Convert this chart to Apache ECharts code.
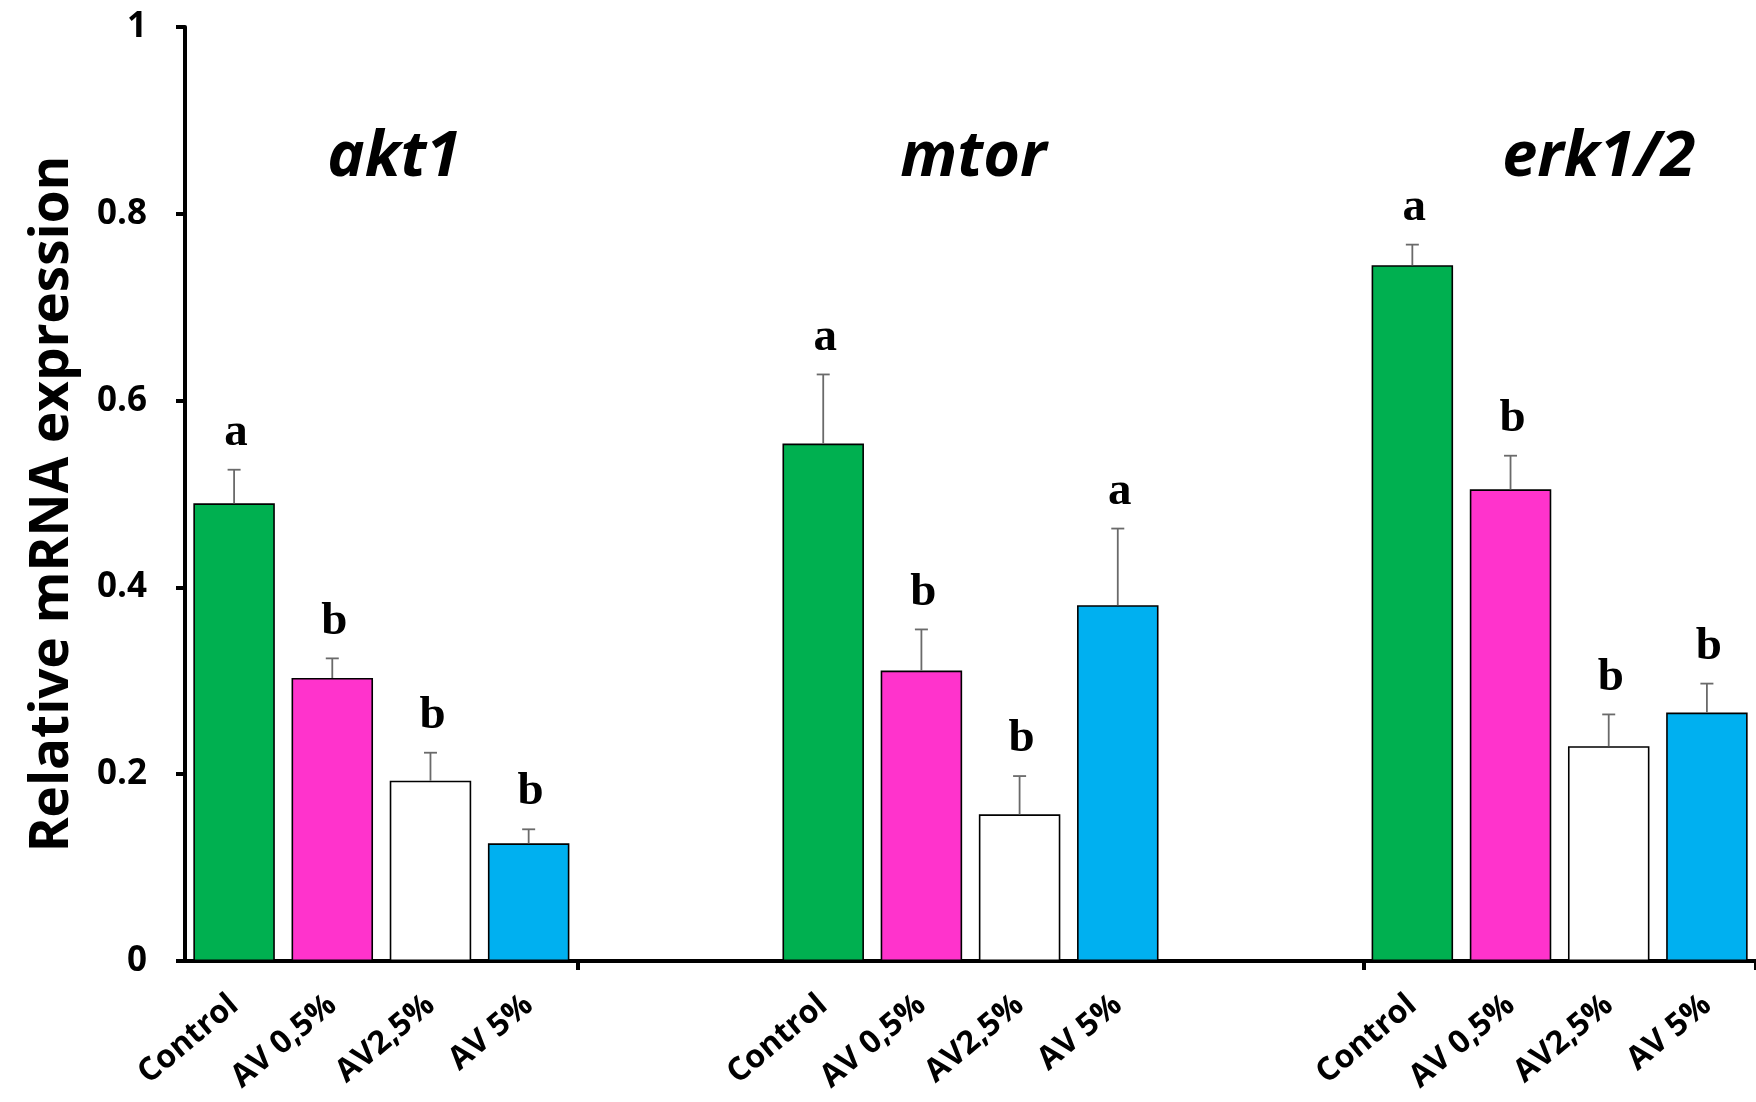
<!DOCTYPE html>
<html>
<head>
<meta charset="utf-8">
<script src="https://cdn.jsdelivr.net/npm/echarts@6/dist/echarts.min.js"></script>
<style>
  html, body { margin: 0; padding: 0; background: #fff; }
  #chart { width: 1756px; height: 1102px; }
</style>
</head>
<body>
<div id="chart"></div>
<script>
// Relative mRNA expression of three genes under four treatments (mean + SE, letter groups)
const genes = ['akt1', 'mtor', 'erk1/2'];
const treatments = ['Control', 'AV 0,5%', 'AV2,5%', 'AV 5%'];
const treatmentColors = ['#00B050', '#FF33CC', '#FFFFFF', '#00B0F0'];

const akt1Mean = [0.490, 0.303, 0.193, 0.126];
const akt1Err = [0.036, 0.021, 0.030, 0.015];
const akt1Letters = ['a', 'b', 'b', 'b'];

const mtorMean = [0.554, 0.311, 0.157, 0.381];
const mtorErr = [0.074, 0.044, 0.041, 0.082];
const mtorLetters = ['a', 'b', 'b', 'a'];

const erkMean = [0.745, 0.505, 0.230, 0.266];
const erkErr = [0.022, 0.036, 0.034, 0.031];
const erkLetters = ['a', 'b', 'b', 'b'];

const yTickLabels = ['0', '0.2', '0.4', '0.6', '0.8', '1'];

// ---- layout helpers ----
const means = [akt1Mean, mtorMean, erkMean];
const errs = [akt1Err, mtorErr, erkErr];
const letters = [akt1Letters, mtorLetters, erkLetters];

// each gene occupies 6 slots on the category axis: 4 bars followed by 2 empty slots
const slotsPerGroup = 6;
const slotCount = genes.length * slotsPerGroup - 2;
const tickSlots = [4, 12];
const titleLevel = 0.86;
const titleShift = [0.13, 0.03, 0.4]; // horizontal nudge of each gene title, in slots

const categories = new Array(slotCount).fill('');
const barData = new Array(slotCount).fill('-');
const errData = [];
const errLetters = [];
genes.forEach((g, gi) => {
  treatments.forEach((t, ti) => {
    const slot = gi * slotsPerGroup + ti;
    categories[slot] = t;
    barData[slot] = {
      value: means[gi][ti],
      itemStyle: { color: treatmentColors[ti] }
    };
    errData.push([slot, means[gi][ti], errs[gi][ti]]);
    errLetters.push(letters[gi][ti]);
  });
});
const titleData = genes.map((g, gi) => [gi * slotsPerGroup + 1, titleLevel]);

const chart = echarts.init(document.getElementById('chart'));
chart.setOption({
  animation: false,
  backgroundColor: '#fff',
  grid: { left: 185, right: 0, top: 27, bottom: 141, outerBoundsMode: 'none' },
  xAxis: {
    type: 'category',
    data: categories,
    boundaryGap: true,
    axisLine: { show: true, lineStyle: { color: '#000', width: 4 } },
    axisTick: {
      show: true,
      length: 9,
      interval: (index) => tickSlots.indexOf(index) >= 0,
      lineStyle: { color: '#000', width: 4 }
    },
    axisLabel: {
      interval: 0,
      rotate: 40,
      margin: 40,
      color: '#000',
      fontFamily: 'Open Sans',
      fontWeight: 'bold',
      fontSize: 32
    },
    splitLine: { show: false }
  },
  yAxis: {
    type: 'value',
    min: 0,
    max: 1,
    interval: 0.2,
    name: 'Relative mRNA expression',
    nameLocation: 'middle',
    nameGap: 106,
    nameRotate: 90,
    nameTextStyle: {
      color: '#000',
      fontFamily: 'Open Sans',
      fontWeight: 'bold',
      fontSize: 53,
      padding: [0, 20, 0, 0]
    },
    axisLine: { show: true, lineStyle: { color: '#000', width: 4 } },
    axisTick: { show: true, length: 9, lineStyle: { color: '#000', width: 4 } },
    axisLabel: {
      margin: 38,
      color: '#000',
      fontFamily: 'Open Sans',
      fontWeight: 'bold',
      fontSize: 35,
      formatter: (v) => yTickLabels[Math.round(v / 0.2)]
    },
    splitLine: { show: false }
  },
  series: [
    {
      type: 'bar',
      data: barData,
      barCategoryGap: '17%',
      itemStyle: { borderColor: '#000', borderWidth: 1.6 },
      z: 2
    },
    {
      // upper error bars with significance letters
      type: 'custom',
      data: errData,
      z: 3,
      renderItem: (params, api) => {
        const slot = api.value(0);
        const mean = api.value(1);
        const err = api.value(2);
        const base = api.coord([slot, mean]);
        const top = api.coord([slot, mean + err]);
        const cap = 6.5;
        const stroke = { stroke: '#6a6a6a', lineWidth: 1.8 };
        return {
          type: 'group',
          children: [
            { type: 'line', shape: { x1: base[0], y1: base[1], x2: top[0], y2: top[1] }, style: stroke },
            { type: 'line', shape: { x1: top[0] - cap, y1: top[1], x2: top[0] + cap, y2: top[1] }, style: stroke },
            {
              type: 'text',
              style: {
                text: errLetters[params.dataIndex],
                x: top[0] + 2,
                y: top[1] - 37,
                align: 'center',
                verticalAlign: 'middle',
                fill: '#000',
                fontFamily: 'Liberation Serif',
                fontWeight: 'bold',
                fontSize: 47
              }
            }
          ]
        };
      }
    },
    {
      // gene names above each group
      type: 'custom',
      data: titleData,
      z: 4,
      renderItem: (params, api) => {
        const p = api.coord([api.value(0), api.value(1)]);
        const band = api.size([1, 0])[0];
        return {
          type: 'text',
          style: {
            text: genes[params.dataIndex],
            x: p[0] + band * (0.5 + titleShift[params.dataIndex]),
            y: p[1],
            align: 'center',
            verticalAlign: 'middle',
            fill: '#000',
            fontFamily: 'Open Sans',
            fontWeight: 'bold',
            fontStyle: 'italic',
            fontSize: 63
          }
        };
      }
    }
  ]
});
</script>
</body>
</html>
